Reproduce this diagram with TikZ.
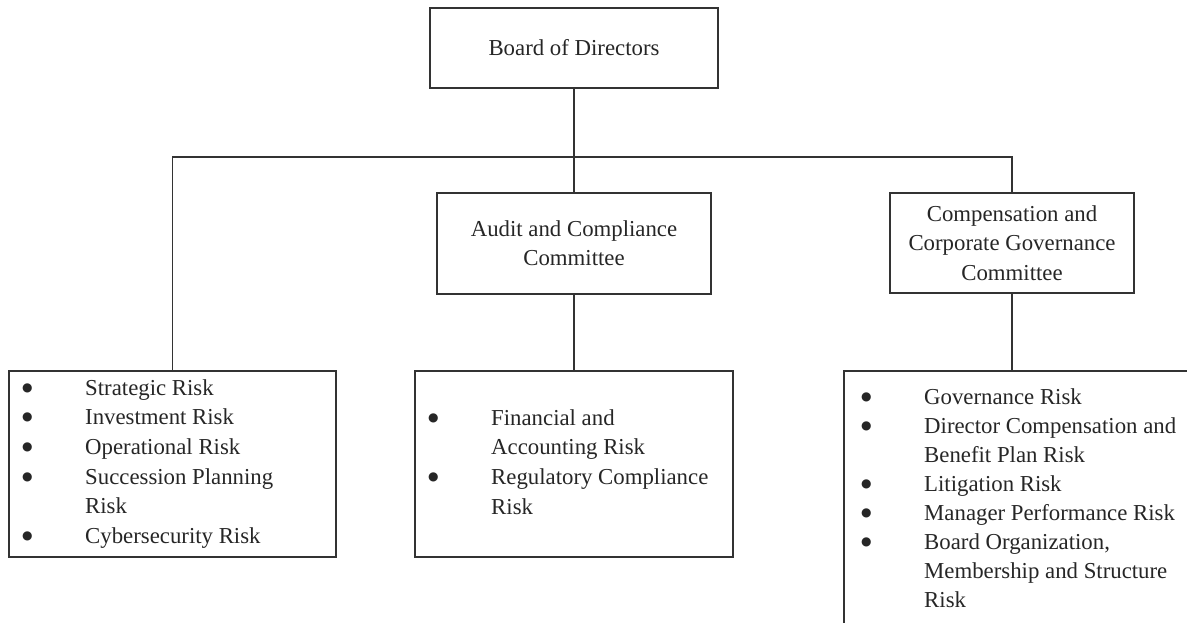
\documentclass[tikz,border=0pt]{standalone}
\usepackage{fontspec}
\setmainfont{Liberation Serif}
\newfontfamily\symfont{DejaVu Sans}
\newcommand\bul{\makebox[63pt][l]{\raisebox{4pt}{\fontsize{12}{12}\symfont ●}}}
\newcommand\cont{\hspace*{63pt}}
\newcommand\topstrut{\rule{0pt}{20pt}}
\begin{document}
\begin{tikzpicture}[x=1pt,y=-1pt,
  line/.style={draw=black!80, line width=1.7pt},
  box/.style={line, rectangle, inner sep=0pt, align=center,
    font=\fontsize{22.8}{29.3}\selectfont, text=black!85},
  listtext/.style={inner sep=0pt, anchor=north west, align=left, text=black!85}]
\useasboundingbox (0,0) rectangle (1187,622);
\clip (0,0) rectangle (1187,622);
% committee boxes
\node[box, minimum width=288pt, minimum height=80pt] (board) at (574,48) {Board of Directors};
\node[box, minimum width=274pt, minimum height=101pt] (audit) at (574,243.5) {Audit and Compliance\\Committee};
\node[box, minimum width=244pt, minimum height=100pt] (comp) at (1012,243) {Compensation and\\Corporate Governance\\Committee};
% list boxes
\node[box, minimum width=327pt, minimum height=186pt, anchor=north] (L) at (172.5,370) {};
\node[box, minimum width=318pt, minimum height=186pt, anchor=north] (M) at (574,370) {};
\node[box, minimum width=400pt, minimum height=300pt, anchor=north west] (R) at (843,370) {};
% connectors
\coordinate (jl) at (172.5,157);
\coordinate (jr) at (1012,157);
\draw[line] (board.south) -- (board.south |- jl);
\draw[line] (L.north) -- (jl) -- (jr) -- (comp.north);
\draw[line] (board.south |- jl) -- (audit.north);
\draw[line] (audit.south) -- (M.north);
\draw[line] (comp.south) -- (comp.south |- R.north);
% list texts
\node[listtext, font=\fontsize{22.8}{29.6}\selectfont] (Lt) at (22,375)
  {\topstrut\bul Strategic Risk\\ \bul Investment Risk\\ \bul Operational Risk\\
   \bul Succession Planning\\ \cont Risk\\ \bul Cybersecurity Risk};
\node[listtext, font=\fontsize{22.8}{29.6}\selectfont] (Mt) at (428,405)
  {\topstrut\bul Financial and\\ \cont Accounting Risk\\ \bul Regulatory Compliance\\ \cont Risk};
\node[listtext, font=\fontsize{22.8}{29.0}\selectfont] (Rt) at (861,384)
  {\topstrut\bul Governance Risk\\ \bul Director Compensation and\\ \cont Benefit Plan Risk\\
   \bul Litigation Risk\\ \bul Manager Performance Risk\\ \bul Board Organization,\\
   \cont Membership and Structure\\ \cont Risk};
\end{tikzpicture}
\end{document}
